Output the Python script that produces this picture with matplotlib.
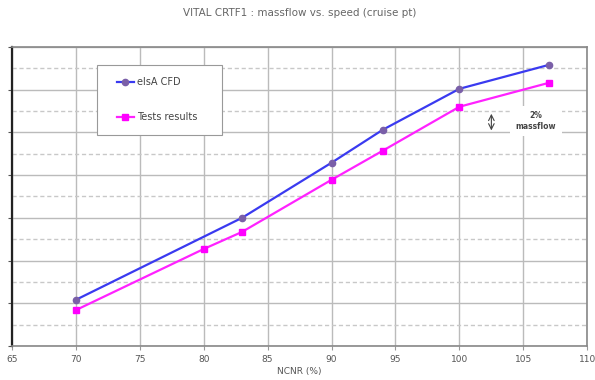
import matplotlib
matplotlib.use("Agg")
import matplotlib.pyplot as plt
from matplotlib.patches import Rectangle
from matplotlib.ticker import MultipleLocator

# speed (%) and massflow (arbitrary units, y axis is unlabeled)
cfd_speed = [70, 83, 90, 94, 100, 107]
cfd_flow = [1.08, 3.0, 4.29, 5.06, 6.02, 6.58]
test_speed = [70, 80, 83, 90, 94, 100, 107]
test_flow = [0.84, 2.27, 2.67, 3.89, 4.57, 5.60, 6.16]
xticks = [65, 70, 75, 80, 85, 90, 95, 100, 105, 110]

fig = plt.figure(figsize=(5.95, 3.8), dpi=100)
ax = fig.add_axes([0.020, 0.0895, 0.967, 0.787])

ax.plot(cfd_speed, cfd_flow, color="#3a3af0", lw=1.6, marker="o", ms=4.5,
        mfc="#7a5fa8", mec="#7a5fa8", label="elsA CFD", zorder=3)
ax.plot(test_speed, test_flow, color="#ff22ff", lw=1.6, marker="s", ms=4.5,
        mfc="#ff00ff", mec="#ff00ff", label="Tests results", zorder=3)

ax.set_xlim(65, 110)
ax.set_ylim(0, 7)
ax.set_xticks(xticks)
ax.set_xticklabels([str(t) for t in xticks], fontsize=6.5, color="#555555")
ax.yaxis.set_major_locator(MultipleLocator(1))
ax.yaxis.set_minor_locator(MultipleLocator(0.5))
ax.set_yticklabels([])
ax.tick_params(axis="y", which="major", length=3, color="#555555")
ax.tick_params(axis="y", which="minor", length=0)
ax.tick_params(axis="x", length=3, color="#999999")

ax.grid(True, which="major", color="#bbbbbb", lw=1.0)
ax.grid(True, which="minor", axis="y", color="#c8c8c8", lw=1.0, ls=(0, (3, 2)))
ax.set_axisbelow(True)
for side in ["top", "right", "bottom"]:
    ax.spines[side].set_color("#888888")
    ax.spines[side].set_linewidth(1.2)
ax.spines["left"].set_color("#222222")
ax.spines["left"].set_linewidth(1.6)

ax.set_title("VITAL CRTF1 : massflow vs. speed (cruise pt)", fontsize=7.5,
             color="#666666", pad=22)
ax.set_xlabel("NCNR (%)", fontsize=6.5, color="#555555", labelpad=2)

# legend box drawn by hand, legend itself without frame
ax.add_patch(Rectangle((0.148, 0.706), 0.217, 0.234, transform=ax.transAxes,
                       facecolor="white", edgecolor="#999999", lw=0.8,
                       zorder=4))
leg = ax.legend(loc="upper left", bbox_to_anchor=(0.182, 0.899), fontsize=7,
                frameon=False, labelspacing=2.6, borderpad=0,
                handlelength=1.8, handletextpad=0.3, borderaxespad=0)
leg.set_zorder(5)
for t in leg.get_texts():
    t.set_color("#444444")

# 2% massflow indicator
ax.annotate("", xy=(102.5, 5.5), xytext=(102.5, 4.98),
            arrowprops=dict(arrowstyle="<->", color="#444444", lw=0.8))
ax.text(106.0, 5.27, "2%\nmassflow", fontsize=5.5, color="#444444",
        ha="center", va="center", fontweight="bold",
        bbox=dict(facecolor="white", edgecolor="none", pad=4))

fig.savefig("out.png", dpi=100)
